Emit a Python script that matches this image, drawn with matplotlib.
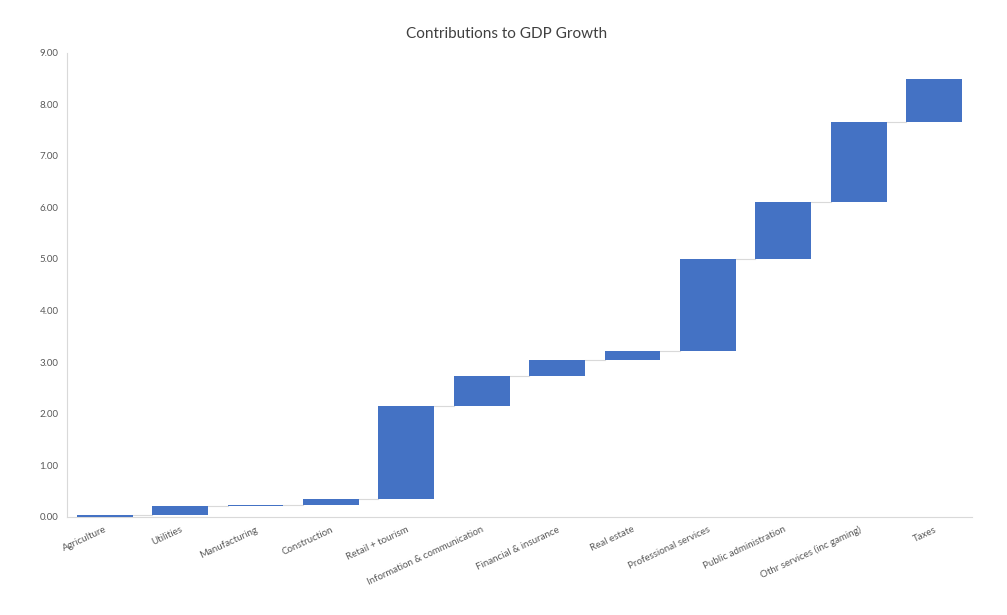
import matplotlib
matplotlib.use("Agg")
import matplotlib.pyplot as plt
import numpy as np

categories = ["Agriculture", "Utilities", "Manufacturing", "Construction",
              "Retail + tourism", "Information & communication",
              "Financial & insurance", "Real estate", "Professional services",
              "Public administration", "Othr services (inc gaming)", "Taxes"]
contributions = [0.04, 0.17, 0.01, 0.13, 1.80, 0.57, 0.32, 0.18, 1.78, 1.11, 1.55, 0.83]
yticks = [0, 1, 2, 3, 4, 5, 6, 7, 8, 9]

plt.rcParams['font.family'] = ['Lato', 'DejaVu Sans']

fig = plt.figure(figsize=(10.07, 6.15), dpi=100)
ax = fig.add_axes([0.0665, 0.16, 0.8985, 0.754])

vals = np.array(contributions)
tops = np.cumsum(vals)
bottoms = tops - vals
x = np.arange(len(categories))
w = 0.74
ax.bar(x, vals, bottom=bottoms, width=w, color="#4472C4", zorder=3)

# connector lines
for i in range(len(categories) - 1):
    ax.plot([x[i] + w / 2, x[i + 1] - w / 2], [tops[i], tops[i]],
            color="#d9d9d9", lw=0.8, zorder=2)

ax.set_xlim(-0.5, len(categories) - 0.5)
ax.set_ylim(0, 9)
ax.set_yticks(yticks)
ax.set_yticklabels([f"{v:.2f}" for v in yticks], fontsize=7, color="#595959")
ax.set_xticks(x)
ax.set_xticklabels(categories, rotation=25, ha="right", rotation_mode="anchor",
                   fontsize=7, color="#595959")
ax.tick_params(axis="both", length=0)
ax.tick_params(axis="y", pad=6)
ax.tick_params(axis="x", pad=6)

for s in ["top", "right"]:
    ax.spines[s].set_visible(False)
for s in ["left", "bottom"]:
    ax.spines[s].set_color("#d9d9d9")
    ax.spines[s].set_linewidth(0.8)

fig.text(0.503, 0.945, "Contributions to GDP Growth", ha="center", va="center",
         fontsize=11, color="#404040")

fig.savefig("out.png", dpi=100, facecolor="white")
